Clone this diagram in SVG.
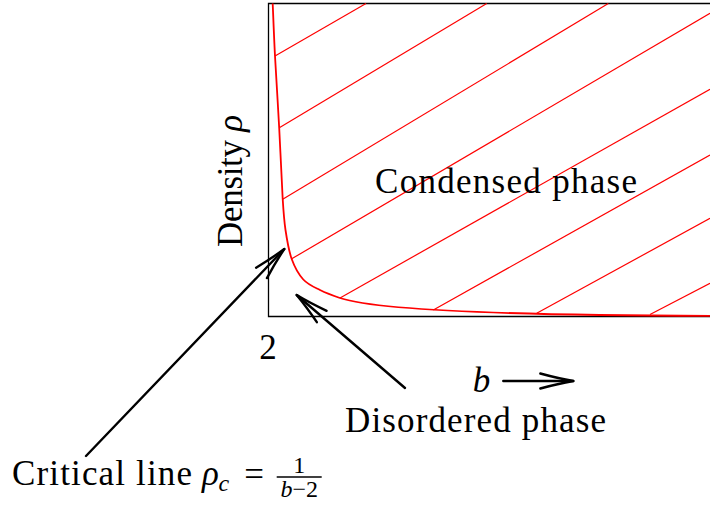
<svg xmlns="http://www.w3.org/2000/svg" width="710" height="507" viewBox="0 0 710 507">
<style>
  .lbl { font-size: 35px; font-family: "Liberation Serif", serif; }
  .small { font-size: 24px; font-family: "Liberation Serif", serif; }
  .it { font-style: italic; }
  .axis { fill: none; stroke: #000; stroke-width: 1.3; }
  .curve { fill: none; stroke: #ff0000; stroke-width: 1.8; }
  .hatch { fill: none; stroke: #ff0000; stroke-width: 1.2; }
  .arrow { fill: none; stroke: #000; stroke-width: 2.4; stroke-linecap: round; stroke-linejoin: round; }
</style>
<defs>
  <path id="head" d="M-33,-7.5 Q-15,-2.6 0,0 Q-15,2.6 -33,7.5"/>
</defs>

<g id="plot-frame">
  <path class="axis" d="M710,3.5 H268.5 V316.5 H710"/>
</g>

<g id="hatching">
  <line class="hatch" x1="366" y1="3.5" x2="275" y2="56"/>
  <line class="hatch" x1="486.7" y1="3.5" x2="279.3" y2="127.7"/>
  <line class="hatch" x1="608.3" y1="3.5" x2="282.7" y2="199.3"/>
  <line class="hatch" x1="710" y1="13.3" x2="291.7" y2="258.8"/>
  <line class="hatch" x1="710" y1="89.3" x2="340" y2="297.9"/>
  <line class="hatch" x1="710" y1="155" x2="433.3" y2="310"/>
  <line class="hatch" x1="710" y1="218.3" x2="536.7" y2="313.3"/>
  <line class="hatch" x1="710" y1="283.3" x2="650" y2="314.5"/>
</g>

<g id="critical-curve">
  <path class="curve" d="M272.7,3.5 C273.08,12.25 273.92,35.25 275,56 C276.08,76.75 277.92,104.17 279.2,128 C280.48,151.83 281.65,182 282.7,199 C283.75,216 284,220 285.5,230 C287,240 288.73,250.75 291.7,259 C294.67,267.25 298.58,274.33 303.3,279.5 C308.02,284.67 313.88,286.92 320,290 C326.12,293.08 333.33,295.75 340,298 C380,311.6 550,315.5 710,315.8"/>
</g>

<g id="connectors">
  <path class="arrow" d="M86,456 L284.3,249"/>
  <use href="#head" class="arrow" transform="translate(284.3,249) rotate(-46.36)"/>
  <path class="arrow" d="M405,388 L296.7,295"/>
  <use href="#head" class="arrow" transform="translate(296.7,295) rotate(-139.35)"/>
  <path class="arrow" d="M503.3,381 L573.3,381"/>
  <use href="#head" class="arrow" transform="translate(573.3,381)"/>
</g>

<g id="condensed-label">
  <text class="lbl" x="375" y="193" textLength="262" lengthAdjust="spacing">Condensed phase</text>
</g>

<g id="y-axis-label">
  <text class="lbl" transform="translate(241.5,247) rotate(-90)" x="0" y="0" textLength="132" lengthAdjust="spacing">Density <tspan class="it">&#961;</tspan></text>
</g>

<g id="x-tick-label">
  <text class="lbl" x="268" y="359" text-anchor="middle">2</text>
</g>

<g id="x-axis-label">
  <text class="lbl it" x="472.7" y="392">b</text>
</g>

<g id="disordered-label">
  <text class="lbl" x="345" y="432" textLength="261" lengthAdjust="spacing">Disordered phase</text>
</g>

<g id="critical-label">
  <text class="lbl" x="12" y="485" textLength="180" lengthAdjust="spacing">Critical line</text>
  <text class="lbl it" x="202" y="485">&#961;</text>
  <text class="small it" x="218.5" y="491">c</text>
  <text class="lbl" x="254" y="486" text-anchor="middle">=</text>
  <text class="small" x="299.2" y="473" text-anchor="middle">1</text>
  <line x1="276.7" y1="477" x2="321.7" y2="477" stroke="#000" stroke-width="1.3"/>
  <text class="small" x="299.2" y="497" text-anchor="middle"><tspan class="it">b</tspan>&#8722;2</text>
</g>
</svg>
